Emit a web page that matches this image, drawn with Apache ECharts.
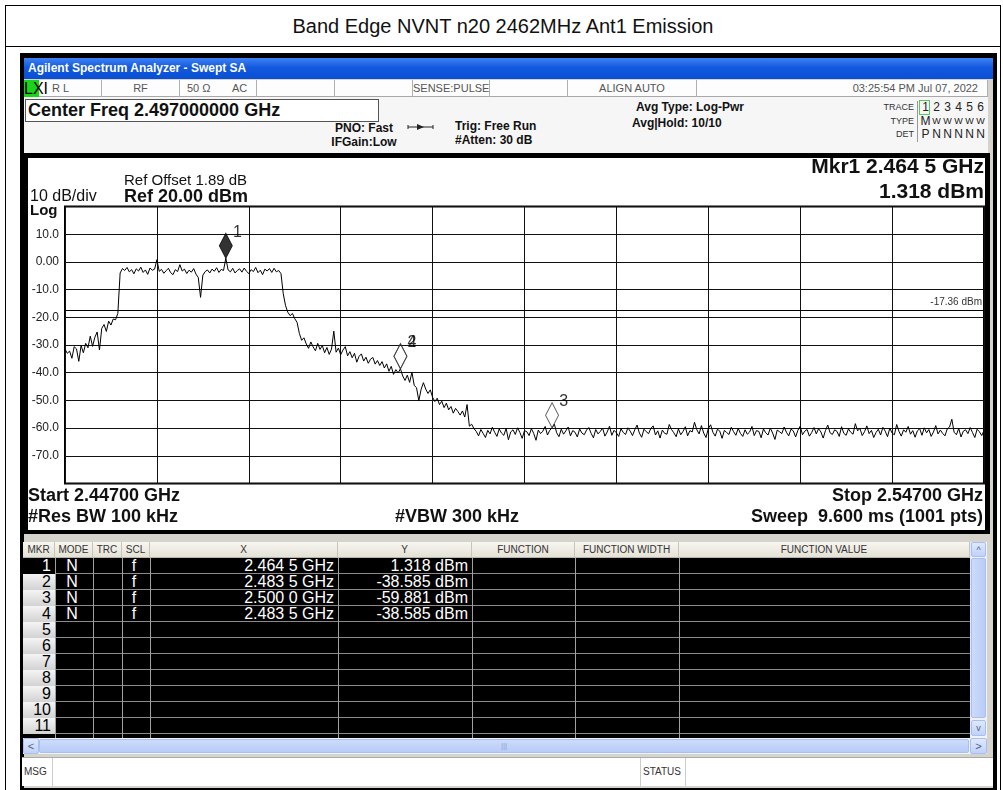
<!DOCTYPE html>
<html>
<head>
<meta charset="utf-8">
<script src="https://cdn.jsdelivr.net/npm/echarts@6/dist/echarts.min.js"></script>
<style>
  body { margin: 0; width: 1003px; height: 790px; background: #fff; position: relative; overflow: hidden;
         font-family: "Liberation Sans", Arial, sans-serif; }
  .a { position: absolute; box-sizing: border-box; white-space: nowrap; }
  .hb { font-weight: bold; font-size: 12px; color: #111; }
  .st { font-size: 11px; color: #555; line-height: 17px; }
  .cell { position: absolute; box-sizing: border-box; line-height: 16px; white-space: nowrap; overflow: hidden; }
</style>
</head>
<body>
<!-- page table -->
<div class="a" style="left:5px;top:5px;width:996px;height:786px;border-left:1px solid #000;border-right:1px solid #000;border-top:1px solid #000;"></div>
<div class="a" style="left:5px;top:46px;width:996px;height:1px;background:#000;"></div>
<div class="a" style="left:5px;top:15px;width:996px;text-align:center;font-size:20px;color:#111;">Band Edge NVNT n20 2462MHz Ant1 Emission</div>

<!-- analyzer frame -->
<div class="a" style="left:20px;top:53px;width:977px;height:737px;background:#000;"></div>
<div class="a" style="left:24px;top:79px;width:969px;height:709px;background:#d6d3cc;"></div>
<div class="a" style="left:24px;top:58px;width:969px;height:21px;background:linear-gradient(#3f82f4,#1259de 45%,#0a4fd2);"></div>
<div class="a" style="left:28px;top:61px;font-size:12px;font-weight:bold;color:#fff;">Agilent Spectrum Analyzer - Swept SA</div>

<!-- status row -->
<div id="status" class="a" style="left:24px;top:80px;width:964px;height:17px;background:#fdfdfd;border-bottom:1px solid #a8a8a8;"></div>

<!-- header area -->
<div class="a" style="left:24px;top:97px;width:964px;height:56px;background:#f6f6f6;"></div>
<div class="a" style="left:25px;top:99px;width:354px;height:23px;border:1px solid #555;background:#fff;font-weight:bold;font-size:18px;line-height:21px;padding-left:2px;color:#111;">Center Freq 2.497000000 GHz</div>
<div class="a hb" style="left:326px;top:121px;width:76px;text-align:center;">PNO: Fast</div>
<div class="a hb" style="left:326px;top:135px;width:76px;text-align:center;">IFGain:Low</div>
<svg class="a" style="left:407px;top:122px;" width="28" height="10">
  <line x1="1" y1="5" x2="26" y2="5" stroke="#222" stroke-width="1"/>
  <line x1="1" y1="3" x2="1" y2="7" stroke="#222"/><line x1="26" y1="3" x2="26" y2="7" stroke="#222"/>
  <polygon points="10,2 17,5 10,8" fill="#222"/>
</svg>
<div class="a hb" style="left:455px;top:119px;">Trig: Free Run</div>
<div class="a hb" style="left:455px;top:133px;">#Atten: 30 dB</div>
<div class="a hb" style="left:636px;top:100px;">Avg Type: Log-Pwr</div>
<div class="a hb" style="left:632px;top:116px;">Avg|Hold: 10/10</div>
<div id="traceBox"></div>

<!-- plot panel -->
<div class="a" style="left:24px;top:153px;width:966px;height:381px;background:#000;"></div>
<div id="plot" class="a" style="left:28px;top:158px;width:957px;height:372px;background:#fff;"></div>

<!-- marker table -->
<div id="table"></div>

<!-- msg row -->
<div class="a" style="left:22px;top:757px;width:971px;height:29px;background:#fff;border-top:1px solid #aaa;"></div>
<div class="a" style="left:24px;top:766px;font-size:10px;color:#333;">MSG</div>
<div class="a" style="left:52px;top:758px;width:1px;height:28px;background:#ccc;"></div>
<div class="a" style="left:640px;top:758px;width:1px;height:28px;background:#ccc;"></div>
<div class="a" style="left:643px;top:766px;font-size:10px;color:#333;">STATUS</div>
<div class="a" style="left:685px;top:758px;width:1px;height:28px;background:#ccc;"></div>

<script>
// sweep 2447..2547 MHz, 401 trace points (0.25 MHz apart)
const traceStartMHz = 2447;
const traceStepMHz = 0.25;
const traceLevels = [
  // 0-23 lower skirt
  -31.5, -33.0, -32.2, -34.8, -30.6, -31.4, -35.9, -30.2, -32.8, -29.4,
  -31.0, -26.8, -30.5, -27.2, -25.3, -31.8, -24.0, -22.6, -25.1, -21.4,
  -22.8, -20.6, -20.9, -18.6,
  // 24-94 channel top
  -4.0, -2.4, -3.1, -2.0, -3.6, -2.8, -4.3, -2.5, -3.3, -1.9,
  -3.8, -2.9, -4.5, -2.2, -3.0, -2.6, 0.8, -3.4, -2.7, -4.1,
  -3.2, -2.3, -3.9, -4.6, -2.8, -3.5, -1.0, -3.3, -2.6, -4.2,
  -3.0, -3.7, -2.4, -4.4, -5.6, -12.8, -4.8, -3.5, -2.9, -4.0,
  -2.6, -3.4, -2.1, -3.8, -2.7, -3.1, 1.318, -2.9, -3.6, -2.3,
  -4.0, -3.1, -2.5, -3.7, -2.2, -3.4, -4.2, -2.8, -3.5, -2.0,
  -3.9, -3.0, -4.6, -2.6, -3.3, -2.4, -3.8, -2.3, -3.6, -3.1,
  -4.2,
  // 95-104 upper edge
  -11.5, -15.8, -18.2, -19.4, -18.6, -20.5, -21.8, -25.8, -28.3, -27.4,
  // 105-146 upper skirt
  -29.6, -31.2, -28.9, -30.7, -32.1, -29.4, -31.6, -30.2, -32.8, -30.9,
  -33.4, -31.5, -25.0, -32.6, -31.1, -33.5, -31.8, -30.6, -33.9, -32.4,
  -34.6, -33.0, -36.2, -34.1, -33.2, -35.8, -34.4, -36.6, -35.1, -34.5,
  -36.9, -35.6, -37.4, -36.0, -38.3, -36.8, -39.5, -37.7, -40.6, -38.9,
  -40.1, -38.585,
  // 147-178 roll-off
  -41.2, -42.8, -40.9, -43.5, -39.8, -44.6, -45.4, -50.1, -46.0, -43.6,
  -45.9, -47.5, -46.2, -48.9, -50.4, -49.2, -51.5, -50.3, -52.6, -51.0,
  -53.4, -52.2, -54.6, -52.9, -54.0, -55.3, -53.8, -56.0, -51.5, -59.3,
  -58.6, -60.2,
  // 179-400 noise floor
  -61.2, -62.8, -60.5, -61.9, -63.4, -60.8, -62.1, -59.7, -61.5, -63.0,
  -60.3, -61.8, -62.6, -60.1, -64.2, -61.4, -60.6, -62.3, -59.9, -61.6,
  -63.7, -60.9, -61.3, -62.7, -60.2, -61.9, -64.4, -60.7, -62.0, -61.1,
  -59.4, -62.5, -60.8, -59.881,
  -58.6, -61.7, -63.1, -60.4, -62.2, -61.0, -59.6, -62.8, -60.9, -61.5,
  -63.2, -60.3, -61.8, -62.4, -60.7, -59.8, -61.9, -63.5, -60.5, -62.1,
  -61.2, -60.0, -62.9, -61.4, -59.3, -62.6, -60.8, -61.7, -63.0, -60.2,
  -61.6, -62.3, -59.9, -61.1, -62.7, -60.6, -58.9, -61.8, -63.3, -60.4,
  -61.3, -62.0, -60.1, -59.2, -62.5, -61.0, -63.6, -60.7, -61.9, -62.2,
  -58.7, -60.5, -61.7, -63.1, -60.3, -62.4, -61.2, -59.5, -62.8, -60.9,
  -61.4, -57.9, -60.6, -62.1, -59.1, -61.8, -63.4, -60.2, -58.8, -61.5,
  -62.9, -60.4, -61.1, -63.7, -60.8, -61.6, -62.3, -59.7, -61.3, -62.6,
  -60.1, -61.9, -63.0, -60.6, -62.2, -61.4, -59.4, -62.7, -60.9, -61.2,
  -63.5, -60.3, -61.7, -62.5, -60.0, -61.8, -64.1, -60.7, -61.3, -62.0,
  -59.6, -61.5, -62.8, -60.4, -61.0, -63.2, -60.8, -59.3, -62.4, -61.1,
  -60.5, -62.9, -61.6, -59.8, -62.1, -60.2, -61.4, -63.6, -60.9, -58.9,
  -61.7, -62.3, -60.6, -61.2, -63.0, -59.5, -61.9, -62.6, -60.3, -61.5,
  -62.2, -58.4, -61.0, -60.1, -62.7, -61.3, -59.2, -62.0, -60.8, -63.4,
  -61.6, -60.4, -62.5, -59.7, -61.1, -63.1, -60.0, -61.8, -62.4, -58.7,
  -61.2, -62.9, -60.6, -61.5, -59.4, -62.2, -60.9, -63.3, -61.0, -60.2,
  -62.6, -59.9, -61.7, -60.5, -63.0, -61.4, -59.1, -62.1, -60.7, -61.9,
  -62.8, -60.3, -59.6, -56.8, -61.5, -62.4, -60.1, -63.2, -61.1, -60.6,
  -62.0, -59.8, -61.6, -63.4, -60.4, -61.3, -62.7, -60.9
];
const displayLineDbm = -17.36;

const markerNames = ["1", "2", "3", "4"];
const markerFreqMHz = [2464.5, 2483.5, 2500.0, 2483.5];
const markerDbm = [1.318, -38.585, -59.881, -38.585];
const markerMode = ["N", "N", "N", "N"];
const markerScale = ["f", "f", "f", "f"];

const yTicksDb = { min: -80, max: 20, step: 10 };
const xTicksMHz = { min: 2447, max: 2547, step: 10 };

const FONT = '"Liberation Sans", Arial, sans-serif';

function fmtGHz(mhz) {
  const s = (mhz / 1000).toFixed(4);
  return s.slice(0, -1) + " " + s.slice(-1) + " GHz";
}

// ---- status row
const statusCells = [
  [24, 102, ""], [102, 180, "RF"], [180, 257, ""], [257, 335, ""], [335, 413, ""],
  [413, 490, "SENSE:PULSE"], [490, 568, ""], [568, 697, "ALIGN AUTO"], [697, 988, ""]
];
let html = "";
statusCells.forEach(([l, r, t]) => {
  html += `<div class="a st" style="left:${l}px;top:80px;width:${r - l}px;height:17px;border-right:1px solid #b0b0b0;text-align:center;">${t}</div>`;
});
html += `<div class="a" style="left:24px;top:80px;width:15px;height:17px;background:#19d419;font:italic bold 9px ${FONT};line-height:17px;color:#111;text-align:center;">LXI</div>`;
html += `<div class="a st" style="left:52px;top:80px;">R L</div>`;
html += `<div class="a st" style="left:187px;top:80px;">50 Ω</div>`;
html += `<div class="a st" style="left:232px;top:80px;">AC</div>`;
html += `<div class="a st" style="left:697px;top:80px;width:281px;text-align:right;">03:25:54 PM Jul 07, 2022</div>`;
document.getElementById("status").insertAdjacentHTML("afterend", html);

// ---- trace / type / det box
const traceRows = [["TRACE", ["1", "2", "3", "4", "5", "6"], 100], ["TYPE", ["M", "W", "W", "W", "W", "W"], 114], ["DET", ["P", "N", "N", "N", "N", "N"], 127]];
html = `<div class="a" style="left:917px;top:101px;width:1px;height:41px;background:#999;"></div>`;
traceRows.forEach(([lab, vals, top]) => {
  html += `<div class="a" style="left:860px;top:${top + 2}px;width:54px;text-align:right;font-size:9px;color:#333;">${lab}</div>`;
  vals.forEach((v, i) => {
    const w = lab === "TYPE" && i > 0;
    html += `<div class="a" style="left:${920 + i * 11}px;top:${top}px;width:11px;text-align:center;font-size:${w ? 9 : 12}px;line-height:14px;color:#222;">${v}</div>`;
  });
});
html += `<div class="a" style="left:919px;top:100px;width:11px;height:15px;border:1px solid #5c5;"></div>`;
document.getElementById("traceBox").innerHTML = html;

// ---- marker table
const cols = [23, 55, 93, 122, 150, 338, 472, 575, 679, 970];
const headers = ["MKR", "MODE", "TRC", "SCL", "X", "Y", "FUNCTION", "FUNCTION WIDTH", "FUNCTION VALUE"];
html = `<div class="a" style="left:23px;top:542px;width:947px;height:16px;background:linear-gradient(#f7f6f0,#e4e1d6);border-bottom:1px solid #b8b4a8;"></div>`;
headers.forEach((h, i) => {
  html += `<div class="cell" style="left:${cols[i]}px;top:542px;width:${cols[i + 1] - cols[i]}px;height:16px;border-right:1px solid #c8c4b8;text-align:center;font-size:10px;color:#333;">${h}</div>`;
});
html += `<div class="a" style="left:23px;top:558px;width:947px;height:180px;background:#000;"></div>`;
for (let r = 0; r < 11; r++) {
  const top = 558 + r * 16;
  const has = r < markerNames.length;
  const sel = r === 0;
  html += `<div class="cell" style="left:23px;top:${top}px;width:32px;height:16px;background:${sel ? "#000" : "linear-gradient(#f4f4f4,#d2d2d2)"};color:${sel ? "#fff" : "#000"};text-align:right;padding-right:4px;font:bold 14px ${FONT};line-height:16px;">${r + 1}</div>`;
  html += `<div class="a" style="left:55px;top:${top + 15}px;width:915px;height:1px;background:#8a8a8a;"></div>`;
  if (has) {
    const cells = [
      [1, markerMode[r], "center"], [3, markerScale[r], "center"],
      [4, fmtGHz(markerFreqMHz[r]), "right"], [5, markerDbm[r].toFixed(3) + " dBm", "right"]
    ];
    cells.forEach(([c, t, al]) => {
      html += `<div class="cell" style="left:${cols[c]}px;top:${top}px;width:${cols[c + 1] - cols[c]}px;height:16px;text-align:${al};padding-right:4px;color:#fff;font:bold 14px ${FONT};line-height:16px;">${t}</div>`;
    });
  }
}
for (let i = 1; i < cols.length - 1; i++) {
  html += `<div class="a" style="left:${cols[i]}px;top:558px;width:1px;height:180px;background:#a0a0a0;"></div>`;
}
// vertical scrollbar
html += `<div class="a" style="left:970px;top:542px;width:17px;height:196px;background:#eef3fd;border-left:1px solid #e0e8f8;"></div>`;
html += `<div class="a" style="left:971px;top:558px;width:15px;height:160px;background:linear-gradient(90deg,#cddbfb,#b8ccf7);border:1px solid #a9bff0;border-radius:2px;"></div>`;
html += `<div class="a" style="left:971px;top:542px;width:15px;height:15px;background:linear-gradient(#dfe8fd,#c0d2f8);border:1px solid #a9bff0;border-radius:2px;font-size:9px;color:#4d6185;text-align:center;line-height:14px;">^</div>`;
html += `<div class="a" style="left:971px;top:720px;width:15px;height:16px;background:linear-gradient(#dfe8fd,#c0d2f8);border:1px solid #a9bff0;border-radius:2px;font-size:9px;color:#4d6185;text-align:center;line-height:14px;">v</div>`;
// horizontal scrollbar
html += `<div class="a" style="left:23px;top:738px;width:964px;height:16px;background:#eef3fd;"></div>`;
html += `<div class="a" style="left:39px;top:739px;width:930px;height:14px;background:linear-gradient(#cddbfb,#b8ccf7);border:1px solid #a9bff0;border-radius:2px;font-size:8px;color:#8aa2d6;text-align:center;line-height:12px;">|||</div>`;
html += `<div class="a" style="left:23px;top:738px;width:16px;height:16px;background:linear-gradient(#dfe8fd,#c0d2f8);border:1px solid #a9bff0;border-radius:2px;font-size:11px;color:#4d6185;text-align:center;line-height:14px;">&lt;</div>`;
html += `<div class="a" style="left:970px;top:738px;width:17px;height:16px;background:linear-gradient(#dfe8fd,#c0d2f8);border:1px solid #a9bff0;border-radius:2px;font-size:11px;color:#4d6185;text-align:center;line-height:14px;">&gt;</div>`;
document.getElementById("table").innerHTML = html;

// ---- the plot
const chart = echarts.init(document.getElementById("plot"), null, { renderer: "canvas" });

const traceData = traceLevels.map((v, i) => [traceStartMHz + i * traceStepMHz, v]);
const markerData = markerNames.map((n, i) => ({
  name: n,
  value: [markerFreqMHz[i], markerDbm[i]],
  itemStyle: i === 0
    ? { color: "#000", borderColor: "#000", borderWidth: 1 }
    : { color: "rgba(255,255,255,0)", borderColor: "#333", borderWidth: 1 },
}));

function txt(text, x, y, font, align) {
  return {
    type: "text", silent: true,
    style: { text, x, y, font, fill: "#111", textAlign: align || "left", align: align || "left",
             textVerticalAlign: "middle", verticalAlign: "middle" },
  };
}

chart.setOption({
  animation: false,
  backgroundColor: "#fff",
  grid: { left: 37, top: 48.5, width: 919, height: 277, show: true, borderColor: "#000", borderWidth: 2, backgroundColor: "#fff" },
  xAxis: {
    type: "value", min: xTicksMHz.min, max: xTicksMHz.max, interval: xTicksMHz.step,
    axisLine: { show: false }, axisTick: { show: false }, axisLabel: { show: false },
    splitLine: { lineStyle: { color: "#111", width: 1 } },
  },
  yAxis: {
    type: "value", min: yTicksDb.min, max: yTicksDb.max, interval: yTicksDb.step,
    axisLine: { show: false }, axisTick: { show: false },
    axisLabel: {
      showMinLabel: false, showMaxLabel: false, color: "#222", fontSize: 12, fontFamily: FONT, margin: 6,
      formatter: (v) => (v === 0 ? "0.00" : v.toFixed(1)),
    },
    splitLine: { lineStyle: { color: "#111", width: 1 } },
  },
  graphic: [
    txt("Ref Offset 1.89 dB", 96, 23, `15px ${FONT}`),
    txt("Ref 20.00 dBm", 96, 39, `bold 18px ${FONT}`),
    txt("10 dB/div", 2, 39, `16px ${FONT}`),
    txt("Log", 2, 53, `bold 15px ${FONT}`),
    txt("Mkr1 " + fmtGHz(markerFreqMHz[0]), 956, 9, `bold 21px ${FONT}`, "right"),
    txt(markerDbm[0].toFixed(3) + " dBm", 956, 34, `bold 21px ${FONT}`, "right"),
    txt("Start 2.44700 GHz", 0, 338, `bold 18px ${FONT}`),
    txt("#Res BW 100 kHz", 0, 359, `bold 18px ${FONT}`),
    txt("#VBW 300 kHz", 367, 359, `bold 18px ${FONT}`),
    txt("Stop 2.54700 GHz", 955, 338, `bold 18px ${FONT}`, "right"),
    txt("Sweep  9.600 ms (1001 pts)", 955, 359, `bold 18px ${FONT}`, "right"),
  ],
  series: [
    {
      type: "line", data: traceData, symbol: "none", silent: true,
      lineStyle: { color: "#000", width: 1 },
      markLine: {
        silent: true, symbol: "none", animation: false,
        data: [{ yAxis: displayLineDbm }],
        lineStyle: { color: "#000", width: 1, type: "solid" },
        label: { position: "insideEndTop", distance: [2, 3], formatter: displayLineDbm.toFixed(2) + " dBm", fontSize: 10, color: "#333", fontFamily: FONT },
      },
    },
    {
      type: "scatter", data: markerData, symbol: "diamond", symbolSize: [13, 25], symbolOffset: [0, -12.5], z: 5,
      label: { show: true, position: [14, -8], formatter: (p) => p.name, fontSize: 16, color: "#000", fontFamily: FONT },
    },
  ],
});
</script>
</body>
</html>
